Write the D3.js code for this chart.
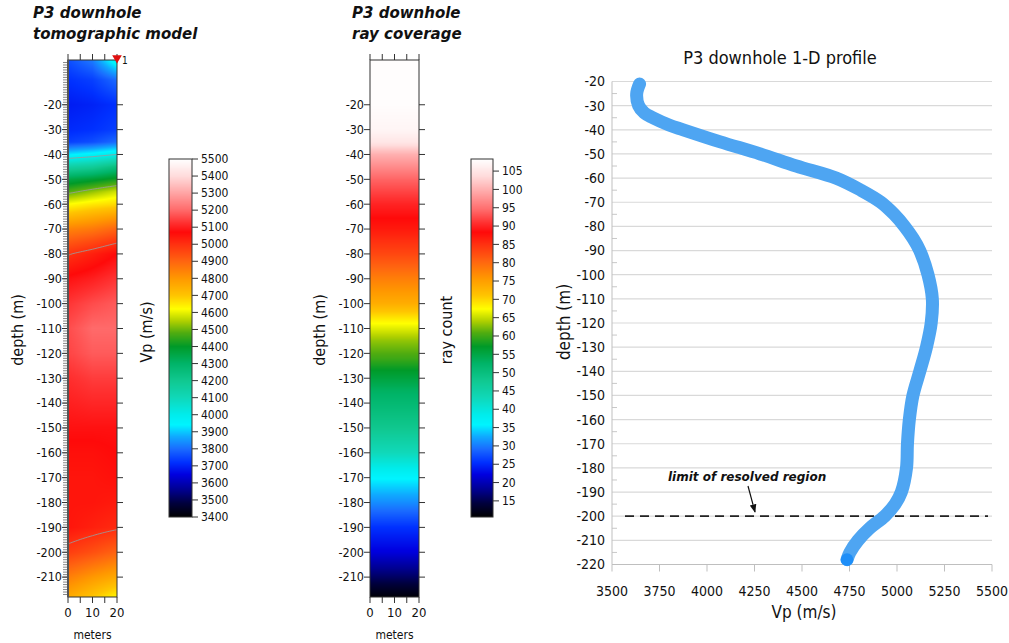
<!DOCTYPE html>
<html>
<head>
<meta charset="utf-8">
<script src="https://cdn.jsdelivr.net/npm/d3@7"></script>
<style>
  body { margin: 0; background: #fff; }
  text { font-family: "DejaVu Sans Condensed", "DejaVu Sans", sans-serif; font-stretch: condensed; fill: #111; }
  .ttl { font-family: "DejaVu Sans", sans-serif; font-stretch: normal; font-weight: bold; font-style: italic; }
</style>
</head>
<body>
<svg id="chart" width="1009" height="643"></svg>
<script>
// tick labels
const depthTicks = [-20, -30, -40, -50, -60, -70, -80, -90, -100, -110, -120, -130, -140, -150, -160, -170, -180, -190, -200, -210]
const meterTicks = [0, 5, 10, 15, 20]
const meterLabels = [0, 10, 20]
const vpBarTicks = [3400, 3500, 3600, 3700, 3800, 3900, 4000, 4100, 4200, 4300, 4400, 4500, 4600, 4700, 4800, 4900, 5000, 5100, 5200, 5300, 5400, 5500]
const rayBarTicks = [15, 20, 25, 30, 35, 40, 45, 50, 55, 60, 65, 70, 75, 80, 85, 90, 95, 100, 105]
const profileTicksY = [-20, -30, -40, -50, -60, -70, -80, -90, -100, -110, -120, -130, -140, -150, -160, -170, -180, -190, -200, -210, -220]
const profileTicksX = [3500, 3750, 4000, 4250, 4500, 4750, 5000, 5250, 5500]

// colour table (Vp -> colour)
const cmapVp = [3400, 3480, 3560, 3650, 3720, 3800, 3870, 3940, 4000, 4100, 4200, 4300, 4400, 4480, 4550, 4620, 4700, 4800, 4900, 5000, 5070, 5130, 5200, 5300, 5400, 5500]
const cmapColor = ['#000000', '#00003c', '#000090', '#0000e0', '#0030ff', '#1a6cff', '#10a8ff', '#00f4ff', '#00ecec', '#10d8b8', '#10c890', '#00b468', '#009a28', '#50ac10', '#b0d000', '#ffff00', '#ffc400', '#ff9800', '#ff6410', '#ff3010', '#ff0a0a', '#ff3434', '#ff6a6a', '#ffa4a4', '#ffdcdc', '#ffffff']

// tomographic model: Vp at x = 0, 10, 20 m
const modelX = [0, 10, 20]
const modelDepth = [-2, -10, -20, -30, -35, -40, -45, -50, -55, -60, -65, -70, -75, -80, -90, -100, -110, -120, -130, -140, -150, -160, -170, -180, -190, -200, -210, -218]
const modelV0 = [3760, 3720, 3690, 3710, 3740, 3930, 4150, 4350, 4480, 4620, 4730, 4840, 4920, 4995, 5080, 5130, 5160, 5150, 5120, 5100, 5080, 5060, 5050, 5050, 5050, 4975, 4850, 4760]
const modelV10 = [3820, 3740, 3700, 3720, 3760, 3960, 4180, 4380, 4530, 4650, 4760, 4860, 4950, 5030, 5100, 5160, 5200, 5180, 5140, 5110, 5080, 5060, 5050, 5050, 5030, 4940, 4800, 4700]
const modelV20 = [3990, 3800, 3720, 3740, 3800, 4000, 4250, 4420, 4580, 4670, 4790, 4900, 4990, 5070, 5130, 5180, 5200, 5180, 5140, 5110, 5080, 5070, 5060, 5040, 5010, 4900, 4760, 4630]
// contour levels, each traced from the top or from the bottom of the column
const contourLevels = [4000, 4500, 5000, 5000]
const contourFrom = ['top', 'top', 'top', 'bottom']

// ray coverage by depth
const rayDepth = [-2, -20, -30, -35, -40, -45, -50, -55, -60, -70, -80, -90, -100, -107, -115, -122, -127, -135, -150, -160, -170, -180, -190, -200, -210, -218]
const rayCount = [108, 108, 107, 105, 100, 97, 94, 92, 90, 87, 83, 78, 73.5, 68, 63, 60, 57, 53, 48, 43, 36, 31, 25.5, 22, 16, 11]

// 1-D profile
const profileDepth = [-21, -25, -30, -33, -35, -38, -40, -45, -50, -55, -60, -65, -70, -75, -80, -85, -90, -100, -110, -120, -130, -140, -150, -160, -170, -180, -190, -195, -200, -205, -210, -215, -218]
const profileVp = [3645, 3630, 3640, 3670, 3715, 3800, 3875, 4070, 4280, 4470, 4680, 4810, 4915, 4985, 5040, 5085, 5120, 5163, 5186, 5180, 5155, 5120, 5084, 5065, 5055, 5050, 5023, 4990, 4935, 4856, 4795, 4752, 4737]
const resolvedLimit = -200

const svg = d3.select('#chart')

const vpColor = d3.scaleLinear().domain(cmapVp).range(cmapColor).clamp(true)
const rayToVp = d3.scaleLinear().domain([10.6, 108.3]).range([3400, 5500])

// paint a raster into an svg <image>
function raster(x0, y0, w, h, colorAt) {
  const canvas = document.createElement('canvas')
  canvas.width = w
  canvas.height = h
  const ctx = canvas.getContext('2d')
  const img = ctx.createImageData(w, h)
  for (let j = 0; j < h; j++) {
    for (let i = 0; i < w; i++) {
      const c = d3.rgb(colorAt(x0 + i + 0.5, y0 + j + 0.5))
      const k = (j * w + i) * 4
      img.data[k] = c.r
      img.data[k + 1] = c.g
      img.data[k + 2] = c.b
      img.data[k + 3] = 255
    }
  }
  ctx.putImageData(img, 0, 0)
  svg.append('image')
    .attr('x', x0).attr('y', y0)
    .attr('width', w).attr('height', h)
    .attr('preserveAspectRatio', 'none')
    .attr('href', canvas.toDataURL())
}

const yD = d3.scaleLinear().domain([-2, -218]).range([60, 597])

// ---------- panel 1: tomographic model ----------
const xL = d3.scaleLinear().domain([0, 20]).range([68, 117])
const colV = [modelV0, modelV10, modelV20].map(v => d3.scaleLinear().domain(modelDepth).range(v).clamp(true))
function modelVp(xm, depth) {
  const a = colV.map(f => f(depth))
  return d3.scaleLinear().domain(modelX).range(a).clamp(true)(xm)
}
raster(68, 60, 49, 537, (px, py) => vpColor(modelVp(xL.invert(px), yD.invert(py))))

// contour lines of the model
const cLine = d3.line().curve(d3.curveBasis)
contourLevels.forEach((level, ci) => {
  const pts = []
  const step = contourFrom[ci] === 'top' ? -0.25 : 0.25
  const start = contourFrom[ci] === 'top' ? -2 : -218
  d3.range(0, 20.01, 1).forEach(xm => {
    let prev = modelVp(xm, start)
    for (let d = start + step; d >= -218 && d <= -2; d += step) {
      const v = modelVp(xm, d)
      if ((prev - level) * (v - level) <= 0 && v !== prev) {
        pts.push([xL(xm), yD(d - step * (v - level) / (v - prev))])
        break
      }
      prev = v
    }
  })
  svg.append('path')
    .attr('d', cLine(pts))
    .attr('fill', 'none')
    .attr('stroke', '#9a9a9a')
    .attr('stroke-opacity', 0.85)
    .attr('stroke-width', 1)
})

function depthFrame(x, minor) {
  const g = svg.append('g')
  if (minor) {
    g.selectAll('line.mn')
      .data(d3.range(-3, -218, -1))
      .enter().append('line')
      .attr('x1', x.range()[0] - 5).attr('x2', x.range()[0])
      .attr('y1', yD).attr('y2', yD)
      .attr('stroke', '#8a8a8a').attr('stroke-width', 1)
  }
  g.selectAll('line.mj')
    .data(depthTicks)
    .enter().append('line')
    .attr('x1', x.range()[0] - 6).attr('x2', x.range()[0])
    .attr('y1', yD).attr('y2', yD)
    .attr('stroke', '#333')
  g.selectAll('line.mr')
    .data(depthTicks)
    .enter().append('line')
    .attr('x1', x.range()[1]).attr('x2', x.range()[1] + 6)
    .attr('y1', yD).attr('y2', yD)
    .attr('stroke', '#333')
  g.selectAll('text.dl')
    .data(depthTicks)
    .enter().append('text')
    .attr('x', x.range()[0] - 6)
    .attr('y', yD)
    .attr('dy', '0.35em')
    .attr('text-anchor', 'end')
    .attr('font-size', 12.5)
    .text(d => d)
  g.selectAll('line.tt')
    .data(meterTicks)
    .enter().append('line')
    .attr('x1', x).attr('x2', x)
    .attr('y1', 54).attr('y2', 60)
    .attr('stroke', '#333')
  g.selectAll('line.bt')
    .data(meterTicks)
    .enter().append('line')
    .attr('x1', x).attr('x2', x)
    .attr('y1', 597).attr('y2', 603)
    .attr('stroke', '#333')
  g.selectAll('text.ml')
    .data(meterLabels)
    .enter().append('text')
    .attr('x', x)
    .attr('y', 617)
    .attr('text-anchor', 'middle')
    .attr('font-size', 13)
    .text(d => d)
  g.append('text')
    .attr('x', (x.range()[0] + x.range()[1]) / 2)
    .attr('y', 639)
    .attr('text-anchor', 'middle')
    .attr('font-size', 12)
    .text('meters')
  g.append('rect')
    .attr('x', x.range()[0]).attr('y', 60)
    .attr('width', x.range()[1] - x.range()[0]).attr('height', 537)
    .attr('fill', 'none').attr('stroke', '#333').attr('stroke-width', 1)
  if (minor) {
    g.append('line')
      .attr('x1', x.range()[0]).attr('x2', x.range()[0])
      .attr('y1', 60).attr('y2', 597)
      .attr('stroke', '#555').attr('stroke-width', 2)
  }
}
depthFrame(xL, true)

// source marker
svg.append('path')
  .attr('d', d3.symbol().type(d3.symbolTriangle).size(40))
  .attr('transform', 'translate(' + xL(20) + ',' + 58 + ') rotate(180)')
  .attr('fill', '#e01010')
svg.append('text').attr('x', 122).attr('y', 64).attr('font-size', 10).text('1')

function vLabel(x, y, txt, size) {
  svg.append('text')
    .attr('transform', 'translate(' + x + ',' + y + ') rotate(-90)')
    .attr('text-anchor', 'middle')
    .attr('font-size', size)
    .text(txt)
}
vLabel(23, 330, 'depth (m)', 16)

svg.append('text').attr('class', 'ttl').attr('x', 33).attr('y', 18).attr('font-size', 15).text('P3 downhole')
svg.append('text').attr('class', 'ttl').attr('x', 33).attr('y', 39).attr('font-size', 15).text('tomographic model')

// Vp colour bar
const yVp = d3.scaleLinear().domain([3400, 5500]).range([517, 159])
raster(169, 159, 23, 358, (px, py) => vpColor(yVp.invert(py)))
svg.append('rect').attr('x', 169).attr('y', 159).attr('width', 23).attr('height', 358)
  .attr('fill', 'none').attr('stroke', '#333')
svg.selectAll('line.vpt').data(vpBarTicks).enter().append('line')
  .attr('x1', 192).attr('x2', 198).attr('y1', yVp).attr('y2', yVp).attr('stroke', '#333')
svg.selectAll('text.vpl').data(vpBarTicks).enter().append('text')
  .attr('x', 201).attr('y', yVp).attr('dy', '0.35em').attr('font-size', 12).text(d => d)
vLabel(152, 332, 'Vp (m/s)', 16)

// ---------- panel 2: ray coverage ----------
const xM = d3.scaleLinear().domain([0, 20]).range([370, 419])
const rayAt = d3.scaleLinear().domain(rayDepth).range(rayCount).clamp(true)
raster(370, 60, 49, 537, (px, py) => vpColor(rayToVp(rayAt(yD.invert(py)))))
depthFrame(xM, false)
vLabel(325, 330, 'depth (m)', 16)
svg.append('text').attr('class', 'ttl').attr('x', 352).attr('y', 18).attr('font-size', 15).text('P3 downhole')
svg.append('text').attr('class', 'ttl').attr('x', 352).attr('y', 39).attr('font-size', 15).text('ray coverage')

const yRay = d3.scaleLinear().domain([10.6, 108.3]).range([517, 159])
raster(471, 159, 22, 358, (px, py) => vpColor(rayToVp(yRay.invert(py))))
svg.append('rect').attr('x', 471).attr('y', 159).attr('width', 22).attr('height', 358)
  .attr('fill', 'none').attr('stroke', '#333')
svg.selectAll('line.rt').data(rayBarTicks).enter().append('line')
  .attr('x1', 493).attr('x2', 499).attr('y1', yRay).attr('y2', yRay).attr('stroke', '#333')
svg.selectAll('text.rl').data(rayBarTicks).enter().append('text')
  .attr('x', 502).attr('y', yRay).attr('dy', '0.35em').attr('font-size', 12).text(d => d)
vLabel(452, 330, 'ray count', 16)

// ---------- panel 3: 1-D profile ----------
const xP = d3.scaleLinear().domain([3500, 5500]).range([612, 992])
const yP = d3.scaleLinear().domain([-20, -220]).range([81.5, 564.5])

svg.selectAll('line.grid').data(profileTicksY.slice(0, -1)).enter().append('line')
  .attr('x1', 612).attr('x2', 992).attr('y1', yP).attr('y2', yP)
  .attr('stroke', '#d9d9d9').attr('stroke-width', 1.2)
svg.selectAll('line.ymn').data(d3.range(-25, -220, -10)).enter().append('line')
  .attr('x1', 612).attr('x2', 617).attr('y1', yP).attr('y2', yP)
  .attr('stroke', '#c8c8c8')
svg.append('line').attr('x1', 612).attr('x2', 612).attr('y1', yP(-20)).attr('y2', yP(-220)).attr('stroke', '#bfbfbf')
svg.append('line').attr('x1', 612).attr('x2', 992).attr('y1', yP(-220)).attr('y2', yP(-220)).attr('stroke', '#bfbfbf').attr('stroke-width', 1.2)
svg.selectAll('line.xt').data(profileTicksX).enter().append('line')
  .attr('x1', xP).attr('x2', xP).attr('y1', yP(-220)).attr('y2', yP(-220) + 7)
  .attr('stroke', '#bfbfbf')
svg.selectAll('text.pyl').data(profileTicksY).enter().append('text')
  .attr('x', 605).attr('y', yP).attr('dy', '0.35em').attr('text-anchor', 'end')
  .attr('font-size', 14).text(d => d)
svg.selectAll('text.pxl').data(profileTicksX).enter().append('text')
  .attr('x', xP).attr('y', 596).attr('text-anchor', 'middle')
  .attr('font-size', 14).text(d => d)
svg.append('text').attr('x', 804).attr('y', 618).attr('text-anchor', 'middle').attr('font-size', 17).text('Vp (m/s)')
vLabel(570, 322, 'depth (m)', 17)
svg.append('text').attr('x', 780).attr('y', 64).attr('text-anchor', 'middle').attr('font-size', 18).text('P3 downhole 1-D profile')

// resolved-region limit
svg.append('line')
  .attr('x1', 625).attr('x2', 988)
  .attr('y1', yP(resolvedLimit)).attr('y2', yP(resolvedLimit))
  .attr('stroke', '#222').attr('stroke-width', 1.8).attr('stroke-dasharray', '9,6')

const profile = profileDepth.map((d, i) => [profileVp[i], d])
svg.append('path')
  .attr('d', d3.line().x(d => xP(d[0])).y(d => yP(d[1])).curve(d3.curveCatmullRom)(profile))
  .attr('fill', 'none')
  .attr('stroke', '#4ea5f2')
  .attr('stroke-width', 13)
  .attr('stroke-linecap', 'round')
  .attr('stroke-linejoin', 'round')
const last = profile[profile.length - 1]
svg.append('circle').attr('cx', xP(last[0])).attr('cy', yP(last[1])).attr('r', 6.3).attr('fill', '#1e8ef8')

svg.append('defs').append('marker')
  .attr('id', 'arr').attr('viewBox', '0 0 10 10').attr('refX', 9).attr('refY', 5)
  .attr('markerWidth', 7).attr('markerHeight', 7).attr('orient', 'auto')
  .append('path').attr('d', 'M0,1L10,5L0,9Z').attr('fill', '#111')
svg.append('line').attr('x1', 748).attr('y1', 486).attr('x2', 755).attr('y2', 512)
  .attr('stroke', '#111').attr('stroke-width', 1.2).attr('marker-end', 'url(#arr)')
svg.append('text').attr('class', 'ttl').attr('x', 668).attr('y', 481).attr('font-size', 12).text('limit of resolved region')
</script>
</body>
</html>
